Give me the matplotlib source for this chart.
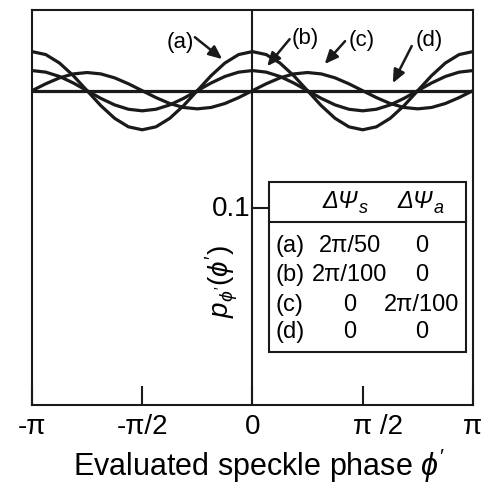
import numpy as np
import matplotlib
matplotlib.use('Agg')
import matplotlib.pyplot as plt
from matplotlib.patches import Rectangle

plt.rcParams['font.family'] = ['Liberation Sans', 'DejaVu Sans']
plt.rcParams['mathtext.fontset'] = 'custom'
plt.rcParams['mathtext.rm'] = 'Liberation Sans'
plt.rcParams['mathtext.it'] = 'Liberation Sans:italic'
plt.rcParams['mathtext.sf'] = 'Liberation Sans'

# phase samples, step pi/16 from -pi to pi
phase = np.linspace(-np.pi, np.pi, 33)

# values
curve_a = [0.1790, 0.1775, 0.1732, 0.1668, 0.1592, 0.1516, 0.1452, 0.1409, 0.1394,
           0.1409, 0.1452, 0.1516, 0.1592, 0.1668, 0.1732, 0.1775, 0.1790,
           0.1775, 0.1732, 0.1668, 0.1592, 0.1516, 0.1452, 0.1409, 0.1394,
           0.1409, 0.1452, 0.1516, 0.1592, 0.1668, 0.1732, 0.1775, 0.1790]
curve_b = [0.1694, 0.1686, 0.1664, 0.1631, 0.1592, 0.1553, 0.1520, 0.1498, 0.1490,
           0.1498, 0.1520, 0.1553, 0.1592, 0.1631, 0.1664, 0.1686, 0.1694,
           0.1686, 0.1664, 0.1631, 0.1592, 0.1553, 0.1520, 0.1498, 0.1490,
           0.1498, 0.1520, 0.1553, 0.1592, 0.1631, 0.1664, 0.1686, 0.1694]
curve_c = [0.1592, 0.1627, 0.1657, 0.1677, 0.1684, 0.1677, 0.1657, 0.1627, 0.1592,
           0.1557, 0.1527, 0.1507, 0.1500, 0.1507, 0.1527, 0.1557, 0.1592,
           0.1627, 0.1657, 0.1677, 0.1684, 0.1677, 0.1657, 0.1627, 0.1592,
           0.1557, 0.1527, 0.1507, 0.1500, 0.1507, 0.1527, 0.1557, 0.1592]
curve_d = [0.1592] * 33

tick_pos = [-np.pi, -np.pi / 2, 0, np.pi / 2, np.pi]
tick_labels = ['-π', '-π/2', '0', '    π /2', 'π']

row_names = ['(a)', '(b)', '(c)', '(d)']
dpsi_s = ['2π/50', '2π/100', '0', '0']
dpsi_a = ['0', '0', '2π/100', '0']

fig = plt.figure(figsize=(4.89, 4.85), dpi=100)
ax = fig.add_axes([0.0654, 0.163, 0.9016, 0.814])

ink = '#1a1a1a'
for c in [curve_a, curve_b, curve_c, curve_d]:
    ax.plot(phase, c, color=ink, lw=2.3, solid_capstyle='butt')

ax.axvline(0, color=ink, lw=1.5)
ax.set_xlim(-np.pi, np.pi)
ax.set_ylim(0, 0.2)
for s in ax.spines.values():
    s.set_linewidth(1.5)
    s.set_color(ink)

ax.set_xticks(tick_pos)
ax.set_xticklabels(tick_labels)
ax.tick_params(axis='x', direction='in', length=14, width=1.5, pad=6,
               labelsize=20, color=ink)
ax.set_yticks([])

ax.set_xlabel("Evaluated speckle phase $\\phi'$", fontsize=22)
ax.xaxis.label.set_va('baseline')
ax.xaxis.set_label_coords(0.516, -0.1765)

# y tick at 0.1 on the centre line
ax.plot([0, 0.235], [0.1, 0.1], color=ink, lw=1.5, clip_on=False)
ax.text(-0.03, 0.1, '0.1', fontsize=20, ha='right', va='center')
ax.text(0.431, 0.314, "$p_{\\phi'}(\\phi')$", fontsize=20, rotation=90,
        ha='center', va='center', transform=ax.transAxes)

# curve labels with arrows
labels = ['(a)', '(b)', '(c)', '(d)']
label_xy = [(-1.03, 0.1843), (0.76, 0.1863), (1.56, 0.1853), (2.52, 0.1853)]
arrow_tail = [(-0.82, 0.1863), (0.53, 0.1853), (1.32, 0.1843), (2.27, 0.1818)]
arrow_head = [(-0.43, 0.1752), (0.21, 0.1716), (1.03, 0.1727), (2.00, 0.1630)]
for lab, p, t, h in zip(labels, label_xy, arrow_tail, arrow_head):
    ax.text(p[0], p[1], lab, fontsize=16, ha='center', va='center')
    ax.annotate('', xy=h, xytext=t,
                arrowprops=dict(arrowstyle='-|>,head_length=0.8,head_width=0.35',
                                color=ink, lw=1.8, shrinkA=0, shrinkB=0))

# parameter table
ax.add_patch(Rectangle((0.537, 0.134), 0.447, 0.4306, transform=ax.transAxes,
                       facecolor='white', edgecolor=ink, lw=1.5, zorder=5))
ax.plot([0.537, 0.984], [0.4633, 0.4633], transform=ax.transAxes,
        color=ink, lw=1.5, zorder=6)
for xr, sub in [(0.739, 's'), (0.909, 'a')]:
    ax.text(xr, 0.501, 'ΔΨ', fontsize=17, style='italic', ha='right',
            va='baseline', transform=ax.transAxes, zorder=7)
    ax.text(xr + 0.002, 0.4886, sub, fontsize=13, style='italic', ha='left',
            va='baseline', transform=ax.transAxes, zorder=7)
row_y = [0.405, 0.3316, 0.2557, 0.1873]
for name, s, a, y in zip(row_names, dpsi_s, dpsi_a, row_y):
    ax.text(0.553, y, name, fontsize=17, ha='left', va='center',
            transform=ax.transAxes, zorder=7)
    ax.text(0.721, y, s, fontsize=17, ha='center', va='center',
            transform=ax.transAxes, zorder=7)
    ax.text(0.884, y, a, fontsize=17, ha='center', va='center',
            transform=ax.transAxes, zorder=7)

fig.savefig('out.png', dpi=100)
